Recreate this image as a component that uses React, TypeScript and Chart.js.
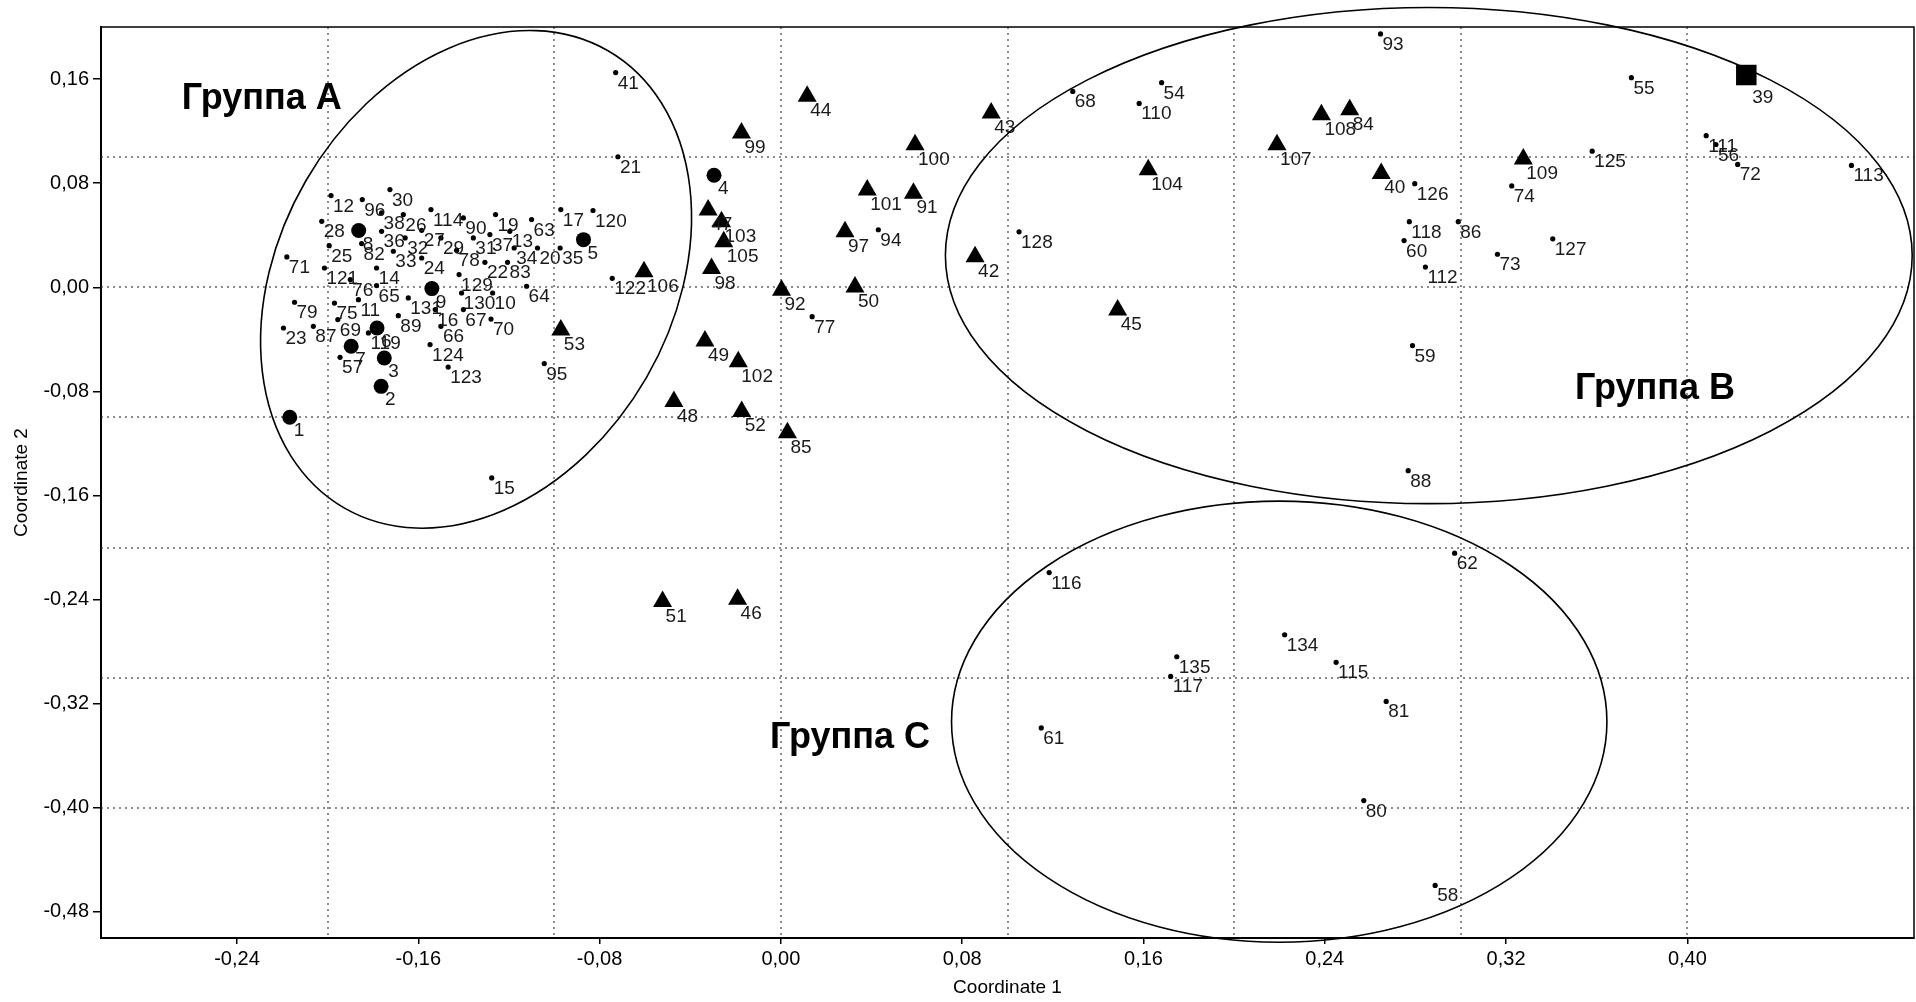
import React, { useEffect, useRef } from 'react';
import { Chart, registerables } from 'chart.js';

Chart.register(...registerables);

const FONT = "'Liberation Sans', Arial, Helvetica, sans-serif";

// Axis ticks (labelled) and dotted reference grid
const xTickValues = [-0.24, -0.16, -0.08, 0, 0.08, 0.16, 0.24, 0.32, 0.4];
const yTickValues = [0.16, 0.08, 0, -0.08, -0.16, -0.24, -0.32, -0.4, -0.48];
const xGridValues = [-0.2, -0.1, 0, 0.1, 0.2, 0.3, 0.4];
const yGridValues = [0.1, 0, -0.1, -0.2, -0.3, -0.4];

// Large filled circles
const circleIds = [1, 2, 3, 4, 5, 6, 7, 8, 9];
const circleX = [-0.2167, -0.1764, -0.175, -0.0295, -0.0871, -0.1782, -0.1896, -0.1863, -0.154];
const circleY = [-0.0999, -0.0761, -0.0543, 0.0861, 0.0366, -0.0313, -0.0453, 0.0436, -0.001];

// Square
const squareIds = [39];
const squareX = [0.426];
const squareY = [0.1631];

// Triangles
const triangleIds = [40, 42, 43, 44, 45, 46, 47, 48, 49, 50, 51, 52, 53, 84, 85, 91, 92, 97, 98, 99, 100, 101, 102, 103, 104, 105, 106, 107, 108, 109];
const triangleX = [0.2649, 0.0857, 0.0928, 0.0116, 0.1486, -0.0191, -0.0321, -0.0472, -0.0335, 0.0327, -0.0522, -0.0173, -0.0971, 0.251, 0.0029, 0.0585, 0.0003, 0.0283, -0.0306, -0.0174, 0.0592, 0.0381, -0.0188, -0.0262, 0.1621, -0.0252, -0.0604, 0.2189, 0.2385, 0.3276];
const triangleY = [0.0875, 0.0234, 0.134, 0.1468, -0.0174, -0.2397, 0.0594, -0.0878, -0.0412, 0.0003, -0.2415, -0.0954, -0.0328, 0.1365, -0.1117, 0.0723, -0.0023, 0.0427, 0.0144, 0.1185, 0.1095, 0.0748, -0.0572, 0.0504, 0.0903, 0.035, 0.0119, 0.1095, 0.1326, 0.0985];

// Small dots
const dotIds = [10, 11, 12, 13, 14, 15, 16, 17, 19, 20, 21, 22, 23, 24, 25, 26, 27, 28, 29, 30, 31, 32, 33, 34, 35, 36, 37, 38, 41, 54, 55, 56, 57, 58, 59, 60, 61, 62, 63, 64, 65, 66, 67, 68, 69, 70, 71, 72, 73, 74, 75, 76, 77, 78, 79, 80, 81, 82, 83, 86, 87, 88, 89, 90, 93, 94, 95, 96, 110, 111, 112, 113, 114, 115, 116, 117, 118, 119, 120, 121, 122, 123, 124, 125, 126, 127, 128, 129, 130, 131, 134, 135];
const dotX = [-0.1272, -0.1864, -0.1985, -0.1196, -0.1784, -0.1276, -0.1525, -0.0971, -0.1259, -0.1074, -0.0719, -0.1306, -0.2195, -0.1585, -0.1993, -0.1666, -0.1585, -0.2026, -0.15, -0.1725, -0.1357, -0.1658, -0.171, -0.1177, -0.0974, -0.1762, -0.1284, -0.1762, -0.0729, 0.168, 0.3753, 0.4126, -0.1945, 0.2887, 0.2787, 0.275, 0.1149, 0.2973, -0.11, -0.1122, -0.1784, -0.15, -0.1401, 0.1288, -0.1955, -0.1279, -0.218, 0.4222, 0.3162, 0.3225, -0.197, -0.19, 0.0138, -0.1431, -0.2146, 0.2572, 0.2671, -0.185, -0.1206, 0.2989, -0.2063, 0.2768, -0.1688, -0.1401, 0.2646, 0.043, -0.1044, -0.1847, 0.1581, 0.4083, 0.2844, 0.4724, -0.1544, 0.245, 0.1184, 0.172, 0.2773, -0.182, -0.0829, -0.2014, -0.0744, -0.1468, -0.1548, 0.358, 0.2797, 0.3406, 0.1051, -0.142, -0.1409, -0.1644, 0.2223, 0.1747];
const dotY = [-0.0044, -0.0095, 0.0705, 0.043, 0.0148, -0.1465, -0.0171, 0.0597, 0.0559, 0.0302, 0.1003, 0.0192, -0.0313, 0.0225, 0.032, 0.0559, 0.0438, 0.0507, 0.0379, 0.0751, 0.0379, 0.0379, 0.0277, 0.0302, 0.0302, 0.043, 0.0405, 0.0571, 0.165, 0.1572, 0.1611, 0.1097, -0.0538, -0.4596, -0.0448, 0.0359, -0.3386, -0.2043, 0.052, 0.0008, 0.0013, -0.03, -0.0171, 0.1505, -0.0248, -0.0244, 0.0233, 0.0944, 0.0254, 0.0779, -0.0121, 0.0059, -0.0226, 0.0284, -0.0115, -0.3944, -0.3182, 0.0336, 0.0192, 0.0504, -0.03, -0.1409, -0.0218, 0.0533, 0.1947, 0.0442, -0.0586, 0.0674, 0.1413, 0.1165, 0.0155, 0.0936, 0.0597, -0.2882, -0.2192, -0.299, 0.0504, -0.0351, 0.059, 0.0148, 0.0069, -0.0613, -0.044, 0.1046, 0.0796, 0.0372, 0.0426, 0.0098, -0.0044, -0.0082, -0.267, -0.2839];

// Group ellipses (centre in data units, radii: x-units / y-units, rotation degrees)
const groupNames = ['Группа A', 'Группа B', 'Группа C'];
const groupLabelX = [-0.2644, 0.3504, -0.0048];
const groupLabelY = [0.1368, -0.0861, -0.3543];
const ellipseCx = [-0.1345, 0.2859, 0.2199];
const ellipseCy = [0.0061, 0.0244, -0.3338];
const ellipseRx = [0.0868, 0.2133, 0.1446];
const ellipseRy = [0.2028, 0.1906, 0.1695];
const ellipseRotDeg = [30, 0, 0];

const fmtTick = (v: number) => (Math.abs(v) < 1e-9 ? '0,00' : v.toFixed(2).replace('.', ','));

const toPoints = (xs: number[], ys: number[]) => xs.map((x, i) => ({ x, y: ys[i] }));

const datasetIds = [dotIds, circleIds, triangleIds, squareIds];
const labelOffsets = [
  [2, 16],
  [4, 19],
  [3, 20],
  [6, 28],
];

const overlayPlugin = {
  id: 'overlay',
  beforeDraw(chart: any) {
    const { ctx, width, height } = chart;
    ctx.save();
    ctx.fillStyle = '#ffffff';
    ctx.fillRect(0, 0, width, height);
    ctx.restore();
  },
  beforeDatasetsDraw(chart: any) {
    const { ctx, chartArea, scales } = chart;
    const { left, right, top, bottom } = chartArea;
    ctx.save();
    ctx.strokeStyle = '#8c8c8c';
    ctx.lineWidth = 2;
    ctx.setLineDash([2, 4]);
    xGridValues.forEach((v) => {
      const px = Math.round(scales.x.getPixelForValue(v));
      ctx.beginPath();
      ctx.moveTo(px, top);
      ctx.lineTo(px, bottom);
      ctx.stroke();
    });
    yGridValues.forEach((v) => {
      const py = Math.round(scales.y.getPixelForValue(v));
      ctx.beginPath();
      ctx.moveTo(left, py);
      ctx.lineTo(right, py);
      ctx.stroke();
    });
    ctx.restore();
  },
  afterDatasetsDraw(chart: any) {
    const { ctx, chartArea, scales } = chart;
    ctx.save();
    // point labels
    ctx.fillStyle = '#1a1a1a';
    ctx.font = `19px ${FONT}`;
    ctx.textAlign = 'left';
    ctx.textBaseline = 'alphabetic';
    datasetIds.forEach((ids, di) => {
      const meta = chart.getDatasetMeta(di);
      const [dx, dy] = labelOffsets[di];
      meta.data.forEach((el: any, j: number) => {
        ctx.fillText(String(ids[j]), el.x + dx, el.y + dy);
      });
    });
    // ellipses
    const pxX = Math.abs(scales.x.getPixelForValue(1) - scales.x.getPixelForValue(0));
    const pxY = Math.abs(scales.y.getPixelForValue(0) - scales.y.getPixelForValue(1));
    ctx.strokeStyle = '#000';
    ctx.lineWidth = 1.6;
    ellipseCx.forEach((cx, i) => {
      ctx.beginPath();
      ctx.ellipse(
        scales.x.getPixelForValue(cx),
        scales.y.getPixelForValue(ellipseCy[i]),
        ellipseRx[i] * pxX,
        ellipseRy[i] * pxY,
        (ellipseRotDeg[i] * Math.PI) / 180,
        0,
        Math.PI * 2
      );
      ctx.stroke();
    });
    // group names
    ctx.fillStyle = '#000';
    ctx.font = `bold 36px ${FONT}`;
    groupNames.forEach((name, i) => {
      ctx.fillText(name, scales.x.getPixelForValue(groupLabelX[i]), scales.y.getPixelForValue(groupLabelY[i]));
    });
    // frame
    ctx.lineWidth = 1.5;
    ctx.strokeRect(chartArea.left, chartArea.top, chartArea.right - chartArea.left, chartArea.bottom - chartArea.top);
    ctx.restore();
  },
};

export default function App() {
  const ref = useRef<HTMLCanvasElement | null>(null);

  useEffect(() => {
    if (!ref.current) return;
    const chart = new Chart(ref.current, {
      type: 'scatter',
      data: {
        datasets: [
          {
            data: toPoints(dotX, dotY),
            pointStyle: 'circle',
            pointRadius: 2.6,
            pointHoverRadius: 2.6,
            backgroundColor: '#000',
            borderColor: '#000',
            borderWidth: 0,
          },
          {
            data: toPoints(circleX, circleY),
            pointStyle: 'circle',
            pointRadius: 7.5,
            pointHoverRadius: 7.5,
            backgroundColor: '#000',
            borderColor: '#000',
            borderWidth: 0,
          },
          {
            data: toPoints(triangleX, triangleY),
            pointStyle: 'triangle',
            pointRadius: 11,
            pointHoverRadius: 11,
            backgroundColor: '#000',
            borderColor: '#000',
            borderWidth: 0,
          },
          {
            data: toPoints(squareX, squareY),
            pointStyle: 'rect',
            pointRadius: 14.5,
            pointHoverRadius: 14.5,
            backgroundColor: '#000',
            borderColor: '#000',
            borderWidth: 0,
          },
        ],
      },
      options: {
        responsive: false,
        animation: false,
        events: [],
        layout: { autoPadding: false, padding: { top: 27, right: 2, left: 0, bottom: 0 } },
        plugins: {
          legend: { display: false },
          tooltip: { enabled: false },
        },
        scales: {
          x: {
            type: 'linear',
            min: -0.3,
            max: 0.5,
            afterBuildTicks: (scale: any) => {
              scale.ticks = xTickValues.map((value) => ({ value }));
            },
            afterFit: (scale: any) => {
              scale.height = 64;
              scale.paddingLeft = 0;
              scale.paddingRight = 0;
            },
            ticks: {
              callback: (v: any) => fmtTick(Number(v)),
              autoSkip: false,
              maxRotation: 0,
              color: '#000',
              padding: 3,
              font: { family: FONT, size: 20 },
            },
            grid: { drawOnChartArea: false, drawTicks: true, tickLength: 6, color: '#000', lineWidth: 1.5 },
            border: { display: true, color: '#000', width: 2 },
            title: {
              display: true,
              text: 'Coordinate 1',
              color: '#000',
              font: { family: FONT, size: 19 },
              padding: { top: 0, bottom: 3 },
            },
          },
          y: {
            type: 'linear',
            min: -0.5,
            max: 0.2,
            afterBuildTicks: (scale: any) => {
              scale.ticks = yTickValues.map((value) => ({ value }));
            },
            afterFit: (scale: any) => {
              scale.width = 101;
              scale.paddingTop = 0;
              scale.paddingBottom = 0;
            },
            ticks: {
              callback: (v: any) => fmtTick(Number(v)),
              autoSkip: false,
              color: '#000',
              padding: 4,
              font: { family: FONT, size: 20 },
            },
            grid: { drawOnChartArea: false, drawTicks: true, tickLength: 8, color: '#000', lineWidth: 1.5 },
            border: { display: true, color: '#000', width: 2 },
            title: {
              display: true,
              text: 'Coordinate 2',
              color: '#000',
              font: { family: FONT, size: 19 },
              padding: { top: 10, bottom: 0 },
            },
          },
        },
      },
      plugins: [overlayPlugin],
    } as any);
    return () => chart.destroy();
  }, []);

  return (
    <div style={{ position: 'absolute', left: 0, top: 0, width: 1916, height: 1002, background: '#fff' }}>
      <canvas ref={ref} width={1916} height={1002} style={{ display: 'block', width: 1916, height: 1002 }} />
    </div>
  );
}
